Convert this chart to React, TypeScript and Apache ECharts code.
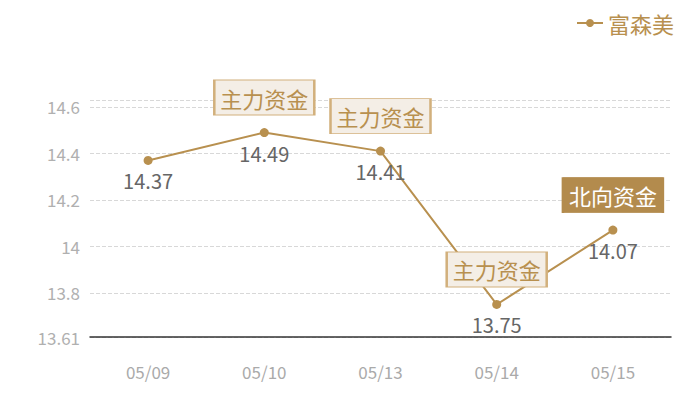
import React, { useEffect, useRef } from 'react';
import * as echarts from 'echarts';

const dates = ['05/09', '05/10', '05/13', '05/14', '05/15'];
const prices = [14.37, 14.49, 14.41, 13.75, 14.07];
// annotation per date: '' = none
const flowTags = ['', '主力资金', '主力资金', '主力资金', '北向资金'];
const yMin = 13.61;
const yMax = 14.63;

const GOLD = '#b8904f';

const App: React.FC = () => {
  const chartRef = useRef<HTMLDivElement>(null);

  useEffect(() => {
    if (!chartRef.current) return;
    const chart = echarts.init(chartRef.current, undefined, { renderer: 'svg' });

    const font = '"Noto Sans CJK SC", "Noto Sans", sans-serif';

    const marks = flowTags
      .map((tag, i) => ({ tag, i }))
      .filter(m => m.tag)
      .map(({ tag, i }) => {
        const north = tag === '北向资金';
        return {
          coord: [dates[i], prices[i]],
          symbol: 'rect',
          symbolSize: [100, 35],
          symbolOffset: [0, -35],
          itemStyle: {
            color: north ? '#b38b4d' : '#f4eee6',
            borderColor: north ? '#b38b4d' : '#d2b07c',
            borderWidth: 1.5
          },
          label: {
            show: true,
            position: 'inside',
            formatter: tag,
            color: north ? '#ffffff' : GOLD,
            fontSize: 22,
            fontFamily: font
          }
        };
      });

    const option: echarts.EChartsOption = {
      animation: false,
      legend: {
        right: 18,
        top: 4,
        padding: 0,
        itemWidth: 26,
        itemHeight: 10,
        itemGap: 5,
        textStyle: { color: GOLD, fontSize: 22, fontFamily: font },
        data: ['富森美']
      },
      grid: {
        left: 82,
        right: 21,
        top: 92,
        bottom: 55
      },
      xAxis: {
        type: 'category',
        data: dates,
        axisLine: { lineStyle: { color: '#333', width: 1.5 } },
        axisTick: { show: false },
        axisLabel: { color: '#aaa', fontSize: 17, margin: 26, fontFamily: font }
      },
      yAxis: {
        type: 'value',
        min: yMin,
        max: yMax,
        axisLine: { show: false },
        axisTick: { show: false },
        axisLabel: {
          color: '#b0b0b0',
          fontSize: 17,
          margin: 10,
          fontFamily: font,
          formatter: (v: number) => (Math.abs(v - yMax) < 1e-6 ? '' : String(+v.toFixed(2)))
        },
        splitLine: { lineStyle: { color: '#d8d8d8', type: 'dashed' } }
      },
      series: [
        {
          name: '富森美',
          type: 'line',
          data: prices,
          symbol: 'circle',
          symbolSize: 9,
          itemStyle: { color: GOLD },
          lineStyle: { color: GOLD, width: 2 },
          label: {
            show: true,
            position: 'bottom',
            distance: 6,
            color: '#666',
            fontSize: 20,
            fontFamily: font
          },
          markPoint: { data: marks as any }
        }
      ]
    };

    // eslint-disable-next-line @typescript-eslint/no-explicit-any
    chart.setOption(option as any);

    return () => {
      chart.dispose();
    };
  }, []);

  return <div ref={chartRef} style={{ width: 684, height: 384 }} />;
};

export default App;
